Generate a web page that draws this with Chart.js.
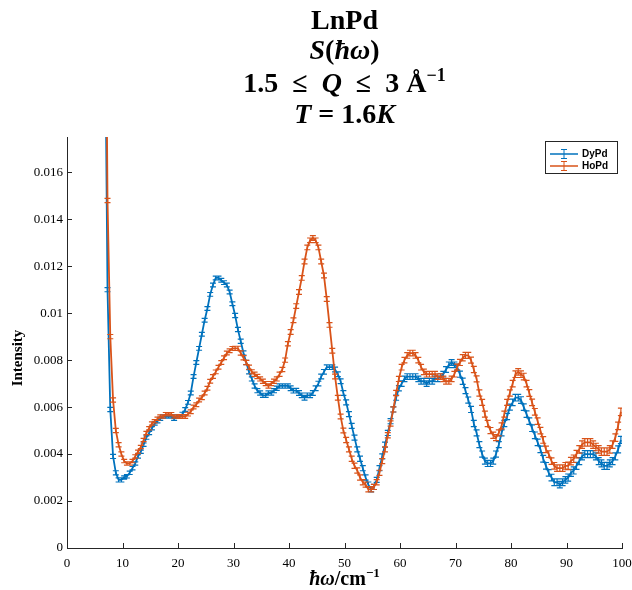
<!DOCTYPE html>
<html>
<head>
<meta charset="utf-8">
<script src="https://cdn.jsdelivr.net/npm/chart.js@4.4.0/dist/chart.umd.min.js"></script>
<style>
  html, body { margin: 0; padding: 0; background: #fff; }
  #wrap { width: 632px; height: 590px; }
</style>
</head>
<body>
<div id="wrap"><canvas id="graph" width="632" height="590"></canvas></div>
<script>
"use strict";

// energy transfer bins (cm^-1): centre of the first bin and bin width
const binStart = 6.8;
const binWidth = 0.5;

// S(hbar omega), DyPd, 6.8 ... 99.8 cm^-1
const dyPd = [
  0.0240, 0.0110, 0.0059, 0.0039, 0.0032, 0.0029, 0.0029, 0.0030, 0.00305, 0.0032,
  0.0034, 0.0036, 0.0039, 0.0041, 0.0044, 0.0047, 0.0049, 0.0051, 0.0053, 0.0054,
  0.0055, 0.0056, 0.0056, 0.0056, 0.0056, 0.0055, 0.0056, 0.0056, 0.0057, 0.0059,
  0.0062, 0.0066, 0.0073, 0.0079, 0.0085, 0.0091, 0.0097, 0.0102, 0.0108, 0.0112,
  0.0115, 0.0115, 0.0114, 0.0113, 0.0112, 0.0109, 0.0104, 0.0099, 0.0093, 0.0088,
  0.0083, 0.0079, 0.0075, 0.0072, 0.0069, 0.0067, 0.0066, 0.0065, 0.0065, 0.0066,
  0.0066, 0.0067, 0.0068, 0.0069, 0.0069, 0.0069, 0.0069, 0.0068, 0.0067, 0.0067,
  0.0066, 0.0065, 0.0064, 0.0065, 0.0065, 0.0066, 0.0068, 0.0070, 0.0073, 0.0075,
  0.0077, 0.0077, 0.0077, 0.0076, 0.0074, 0.0071, 0.0066, 0.0062, 0.0057, 0.0052,
  0.0047, 0.0042, 0.0038, 0.0034, 0.0030, 0.0027, 0.0025, 0.0026, 0.0029, 0.0034,
  0.0039, 0.0044, 0.0049, 0.0054, 0.0059, 0.0064, 0.0068, 0.0070, 0.0072, 0.0073,
  0.0073, 0.0073, 0.0073, 0.0072, 0.0071, 0.0071, 0.0070, 0.0071, 0.0071, 0.0072,
  0.0072, 0.0073, 0.0074, 0.0076, 0.0078, 0.0079, 0.0078, 0.0077, 0.0074, 0.0071,
  0.0067, 0.0063, 0.0059, 0.0053, 0.0049, 0.0044, 0.0040, 0.0037, 0.0036, 0.0036,
  0.0037, 0.0040, 0.0044, 0.0049, 0.0053, 0.0056, 0.0060, 0.0062, 0.0064, 0.0064,
  0.0063, 0.0060, 0.0057, 0.0054, 0.0051, 0.0048, 0.0045, 0.0042, 0.0038, 0.0035,
  0.0032, 0.0030, 0.0028, 0.0028, 0.0027, 0.0028, 0.0029, 0.0030, 0.0032, 0.0033,
  0.0035, 0.0037, 0.0039, 0.0040, 0.0040, 0.0040, 0.0040, 0.0039, 0.0037, 0.0036,
  0.0035, 0.0035, 0.0036, 0.0037, 0.0039, 0.0042, 0.0046
];

// S(hbar omega), HoPd, same bins
const hoPd = [
  0.0300, 0.0148, 0.0090, 0.0063, 0.0050, 0.0044, 0.0040, 0.0037, 0.0036, 0.0036,
  0.0037, 0.0039, 0.0041, 0.0043, 0.0046, 0.0049, 0.0051, 0.0053, 0.0054, 0.0055,
  0.0056, 0.0056, 0.0057, 0.0057, 0.0057, 0.0056, 0.0056, 0.0056, 0.0056, 0.0056,
  0.0057, 0.0058, 0.0060, 0.0061, 0.0063, 0.0064, 0.0066, 0.0068, 0.0071, 0.0073,
  0.0075, 0.0077, 0.0079, 0.0081, 0.0083, 0.0084, 0.0085, 0.0085, 0.0085, 0.0083,
  0.0081, 0.0079, 0.0077, 0.0075, 0.0074, 0.0073, 0.0072, 0.0071, 0.0070, 0.0069,
  0.0070, 0.0071, 0.0072, 0.0074, 0.0076, 0.0080, 0.0087, 0.0092, 0.0097, 0.0103,
  0.0109, 0.0115, 0.0122, 0.0128, 0.0131, 0.0132, 0.0131, 0.0128, 0.0122, 0.0116,
  0.0106, 0.0095, 0.0084, 0.0073, 0.0064, 0.0056, 0.0050, 0.0046, 0.0042, 0.0038,
  0.0035, 0.0033, 0.0030, 0.0028, 0.0027, 0.0025, 0.0025, 0.0026, 0.0028, 0.0032,
  0.0037, 0.0042, 0.0048, 0.0053, 0.0059, 0.0066, 0.0072, 0.0077, 0.0080, 0.0082,
  0.0083, 0.0083, 0.0082, 0.0080, 0.0077, 0.0075, 0.0074, 0.0074, 0.0074, 0.0074,
  0.0073, 0.0073, 0.0072, 0.0071, 0.0071, 0.0072, 0.0074, 0.0077, 0.0079, 0.0081,
  0.0082, 0.0082, 0.0080, 0.0076, 0.0072, 0.0066, 0.0062, 0.0057, 0.0053, 0.0050,
  0.0048, 0.0047, 0.0049, 0.0052, 0.0057, 0.0062, 0.0066, 0.0070, 0.0074, 0.0075,
  0.0074, 0.0073, 0.0070, 0.0066, 0.0062, 0.0058, 0.0054, 0.0050, 0.0046, 0.0042,
  0.0040, 0.0037, 0.0035, 0.0034, 0.0034, 0.0034, 0.0035, 0.0035, 0.0037, 0.0038,
  0.0040, 0.0042, 0.0044, 0.0045, 0.0045, 0.0045, 0.0044, 0.0043, 0.0042, 0.0041,
  0.0041, 0.0041, 0.0042, 0.0044, 0.0047, 0.0052, 0.0058
];

// error bar half-heights, one value per 10 cm^-1 band
const dyErr = [0.00009, 0.00007, 0.00008, 0.00009, 0.00010, 0.00011, 0.00012, 0.00013, 0.00014, 0.00015];
const hoErr = [0.00009, 0.00007, 0.00008, 0.00009, 0.00010, 0.00011, 0.00012, 0.00013, 0.00014, 0.00016];

const xTicks = [0, 10, 20, 30, 40, 50, 60, 70, 80, 90, 100];
const yTicks = [0, 0.002, 0.004, 0.006, 0.008, 0.01, 0.012, 0.014, 0.016];

const energy = dyPd.map((_, i) => binStart + i * binWidth);
const toPoints = (vals) => vals.map((v, i) => ({ x: energy[i], y: v }));

const serif = "'Liberation Serif', 'DejaVu Serif', serif";
const sans = "'Liberation Sans', Arial, sans-serif";
const axisColor = "#262626";
const blue = "#0072BD";
const orange = "#D95319";

// draws a line of text made of differently styled pieces, centred on cx
function drawPieces(ctx, pieces, cx, baseline) {
  let total = 0;
  pieces.forEach((p) => {
    ctx.font = p[1];
    total += ctx.measureText(p[0]).width;
  });
  let x = cx - total / 2;
  pieces.forEach((p) => {
    ctx.font = p[1];
    ctx.fillText(p[0], x, baseline + (p[2] || 0));
    x += ctx.measureText(p[0]).width;
  });
}

// vertical error bars with caps, drawn right after each line
const errorBars = {
  id: "errorBars",
  afterDatasetDraw(chart, args) {
    const ds = chart.data.datasets[args.index];
    const { ctx, chartArea, scales } = chart;
    const cap = 3;
    ctx.save();
    ctx.beginPath();
    ctx.rect(chartArea.left, chartArea.top, chartArea.width, chartArea.height);
    ctx.clip();
    ctx.strokeStyle = ds.borderColor;
    ctx.lineWidth = 1.2;
    ctx.beginPath();
    ds.data.forEach((p) => {
      const e = ds.err[Math.min(ds.err.length - 1, Math.floor(p.x / 10))];
      const px = scales.x.getPixelForValue(p.x);
      const lo = scales.y.getPixelForValue(p.y - e);
      const hi = scales.y.getPixelForValue(p.y + e);
      ctx.moveTo(px, lo);
      ctx.lineTo(px, hi);
      ctx.moveTo(px - cap, lo);
      ctx.lineTo(px + cap, lo);
      ctx.moveTo(px - cap, hi);
      ctx.lineTo(px + cap, hi);
    });
    ctx.stroke();
    ctx.restore();
  },
};

// inward ticks, titles and the legend box
const decorations = {
  id: "decorations",
  afterDraw(chart) {
    const { ctx, chartArea, scales } = chart;
    ctx.save();

    ctx.strokeStyle = axisColor;
    ctx.lineWidth = 1;
    ctx.beginPath();
    xTicks.forEach((v) => {
      const px = Math.round(scales.x.getPixelForValue(v)) + 0.5;
      ctx.moveTo(px, chartArea.bottom);
      ctx.lineTo(px, chartArea.bottom - 5);
    });
    yTicks.forEach((v) => {
      const py = Math.round(scales.y.getPixelForValue(v)) + 0.5;
      ctx.moveTo(chartArea.left, py);
      ctx.lineTo(chartArea.left + 5, py);
    });
    ctx.stroke();

    // title block
    ctx.fillStyle = "#000";
    ctx.textBaseline = "alphabetic";
    const B = `bold 28px ${serif}`;
    const BI = `italic bold 28px ${serif}`;
    const SUP = `bold 18px ${serif}`;
    const cx = (chartArea.left + chartArea.right) / 2;
    drawPieces(ctx, [["LnPd", B]], cx, 29);
    drawPieces(ctx, [["S", BI], ["(", B], ["\u0127\u03c9", BI], [")", B]], cx, 59);
    drawPieces(ctx, [["1.5\u2002\u2264\u2002", B], ["Q", BI], ["\u2002\u2264\u20023 \u00c5", B], ["\u22121", SUP, -11]], cx, 92);
    drawPieces(ctx, [["T", BI], [" = 1.6", B], ["K", BI]], cx, 123);

    // axis titles
    drawPieces(ctx, [["\u0127\u03c9", `italic bold 20px ${serif}`], ["/cm", `bold 20px ${serif}`], ["\u22121", `bold 13px ${serif}`, -8]], cx, 585);
    ctx.save();
    ctx.translate(22, 358);
    ctx.rotate(-Math.PI / 2);
    drawPieces(ctx, [["Intensity", `bold 15px ${serif}`]], 0, 0);
    ctx.restore();

    // legend
    const lx = 545, ly = 141, lw = 72, lh = 32;
    ctx.fillStyle = "#fff";
    ctx.fillRect(lx, ly, lw, lh);
    ctx.strokeStyle = axisColor;
    ctx.lineWidth = 1;
    ctx.strokeRect(lx + 0.5, ly + 0.5, lw, lh);
    chart.data.datasets.forEach((ds, i) => {
      const y = ly + 13 + i * 12;
      ctx.strokeStyle = ds.borderColor;
      ctx.lineWidth = 1.5;
      ctx.beginPath();
      ctx.moveTo(lx + 5, y);
      ctx.lineTo(lx + 33, y);
      ctx.stroke();
      ctx.lineWidth = 1;
      ctx.beginPath();
      ctx.moveTo(lx + 19, y - 4.5);
      ctx.lineTo(lx + 19, y + 4.5);
      ctx.moveTo(lx + 16, y - 4.5);
      ctx.lineTo(lx + 22, y - 4.5);
      ctx.moveTo(lx + 16, y + 4.5);
      ctx.lineTo(lx + 22, y + 4.5);
      ctx.stroke();
      ctx.fillStyle = "#000";
      ctx.font = `bold 10px ${sans}`;
      ctx.textBaseline = "middle";
      ctx.fillText(ds.label, lx + 37, y + 0.5);
    });

    ctx.restore();
  },
};

const ctx = document.getElementById("graph").getContext("2d");
const chart = new Chart(ctx, {
  type: "line",
  data: {
    datasets: [
      {
        label: "DyPd",
        data: toPoints(dyPd),
        err: dyErr,
        borderColor: blue,
        backgroundColor: blue,
        borderWidth: 1.8,
        pointRadius: 0,
        tension: 0,
        order: 1,
      },
      {
        label: "HoPd",
        data: toPoints(hoPd),
        err: hoErr,
        borderColor: orange,
        backgroundColor: orange,
        borderWidth: 1.8,
        pointRadius: 0,
        tension: 0,
        order: 0,
      },
    ],
  },
  options: {
    responsive: false,
    animation: false,
    layout: { padding: { top: 137, right: 0, left: 0, bottom: 0 } },
    plugins: {
      legend: { display: false },
      tooltip: { enabled: false },
    },
    scales: {
      x: {
        type: "linear",
        min: 0,
        max: 100,
        grid: { display: false, drawTicks: false, tickLength: 0 },
        border: { display: true, color: axisColor, width: 1 },
        afterBuildTicks: (axis) => {
          axis.ticks = xTicks.map((v) => ({ value: v }));
        },
        afterFit: (axis) => {
          axis.height = 42;
          axis.paddingLeft = 0;
          axis.paddingRight = 10;
        },
        ticks: {
          color: "#000",
          font: { family: serif, size: 13 },
          padding: 8,
          maxRotation: 0,
          autoSkip: false,
          callback: (v) => String(v),
        },
      },
      y: {
        type: "linear",
        min: 0,
        max: 0.0175,
        grid: { display: false, drawTicks: false, tickLength: 0 },
        border: { display: true, color: axisColor, width: 1 },
        afterBuildTicks: (axis) => {
          axis.ticks = yTicks.map((v) => ({ value: v }));
        },
        afterFit: (axis) => {
          axis.width = 67;
          axis.paddingTop = 0;
          axis.paddingBottom = 0;
        },
        ticks: {
          color: "#000",
          font: { family: serif, size: 13 },
          padding: 4,
          autoSkip: false,
          callback: (v) => String(Number(v.toFixed(4))),
        },
      },
    },
  },
  plugins: [errorBars, decorations],
});
</script>
</body>
</html>
